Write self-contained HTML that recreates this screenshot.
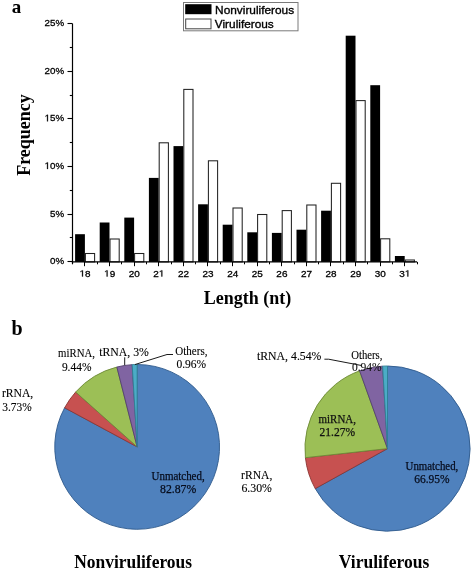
<!DOCTYPE html>
<html><head><meta charset="utf-8"><style>
html,body{margin:0;padding:0;background:#fff;}
body{width:472px;height:569px;overflow:hidden;}
svg{display:block;will-change:transform;}
</style></head><body>
<svg width="472" height="569" viewBox="0 0 472 569">
<rect width="472" height="569" fill="#fff"/>
<rect x="75.10" y="234.20" width="9.80" height="27.70" fill="#000"/>
<rect x="85.40" y="253.50" width="9.20" height="8.40" fill="#fff" stroke="#222" stroke-width="1.05"/>
<rect x="99.70" y="222.50" width="9.80" height="39.40" fill="#000"/>
<rect x="110.00" y="239.00" width="9.20" height="22.90" fill="#fff" stroke="#222" stroke-width="1.05"/>
<rect x="124.30" y="217.60" width="9.80" height="44.30" fill="#000"/>
<rect x="134.60" y="253.50" width="9.20" height="8.40" fill="#fff" stroke="#222" stroke-width="1.05"/>
<rect x="148.90" y="177.90" width="9.80" height="84.00" fill="#000"/>
<rect x="159.20" y="142.80" width="9.20" height="119.10" fill="#fff" stroke="#222" stroke-width="1.05"/>
<rect x="173.50" y="146.10" width="9.80" height="115.80" fill="#000"/>
<rect x="183.80" y="89.40" width="9.20" height="172.50" fill="#fff" stroke="#222" stroke-width="1.05"/>
<rect x="198.10" y="204.30" width="9.80" height="57.60" fill="#000"/>
<rect x="208.40" y="160.80" width="9.20" height="101.10" fill="#fff" stroke="#222" stroke-width="1.05"/>
<rect x="222.70" y="224.70" width="9.80" height="37.20" fill="#000"/>
<rect x="233.00" y="208.00" width="9.20" height="53.90" fill="#fff" stroke="#222" stroke-width="1.05"/>
<rect x="247.30" y="232.30" width="9.80" height="29.60" fill="#000"/>
<rect x="257.60" y="214.50" width="9.20" height="47.40" fill="#fff" stroke="#222" stroke-width="1.05"/>
<rect x="271.90" y="232.90" width="9.80" height="29.00" fill="#000"/>
<rect x="282.20" y="210.60" width="9.20" height="51.30" fill="#fff" stroke="#222" stroke-width="1.05"/>
<rect x="296.50" y="229.70" width="9.80" height="32.20" fill="#000"/>
<rect x="306.80" y="205.00" width="9.20" height="56.90" fill="#fff" stroke="#222" stroke-width="1.05"/>
<rect x="321.10" y="210.70" width="9.80" height="51.20" fill="#000"/>
<rect x="331.40" y="183.30" width="9.20" height="78.60" fill="#fff" stroke="#222" stroke-width="1.05"/>
<rect x="345.70" y="35.70" width="9.80" height="226.20" fill="#000"/>
<rect x="356.00" y="100.60" width="9.20" height="161.30" fill="#fff" stroke="#222" stroke-width="1.05"/>
<rect x="370.30" y="85.20" width="9.80" height="176.70" fill="#000"/>
<rect x="380.60" y="238.80" width="9.20" height="23.10" fill="#fff" stroke="#222" stroke-width="1.05"/>
<rect x="394.90" y="256.00" width="9.80" height="5.90" fill="#000"/>
<rect x="405.20" y="260.00" width="9.20" height="1.90" fill="#fff" stroke="#222" stroke-width="1.05"/>
<line x1="72.5" y1="23.6" x2="72.5" y2="262.5" stroke="#000" stroke-width="1.2"/>
<line x1="71.9" y1="261.9" x2="417.0" y2="261.9" stroke="#000" stroke-width="1.2"/>
<line x1="67.5" y1="261.50" x2="72.5" y2="261.50" stroke="#000" stroke-width="1.1"/>
<text transform="translate(50.058,264.100) scale(1.03,1)" font-family='"Liberation Sans", sans-serif' font-size="9.5" stroke="#000" stroke-width="0.28">0</text>
<text transform="translate(55.500,264.100) scale(1.03,1)" font-family='"Liberation Sans", sans-serif' font-size="9.5" stroke="#000" stroke-width="0.28">%</text>
<line x1="69.8" y1="237.50" x2="72.5" y2="237.50" stroke="#000" stroke-width="1.1"/>
<line x1="67.5" y1="214.50" x2="72.5" y2="214.50" stroke="#000" stroke-width="1.1"/>
<text transform="translate(50.058,216.520) scale(1.03,1)" font-family='"Liberation Sans", sans-serif' font-size="9.5" stroke="#000" stroke-width="0.28">5</text>
<text transform="translate(55.500,216.520) scale(1.03,1)" font-family='"Liberation Sans", sans-serif' font-size="9.5" stroke="#000" stroke-width="0.28">%</text>
<line x1="69.8" y1="190.50" x2="72.5" y2="190.50" stroke="#000" stroke-width="1.1"/>
<line x1="67.5" y1="166.50" x2="72.5" y2="166.50" stroke="#000" stroke-width="1.1"/>
<path transform="translate(44.616,168.940) scale(0.004778,-0.004639)" d="M515,0 L515,1237 L197,1010 L197,1180 L530,1409 L696,1409 L696,0 Z" fill="#000" stroke="#000" stroke-width="60.4"/>
<text transform="translate(50.058,168.940) scale(1.03,1)" font-family='"Liberation Sans", sans-serif' font-size="9.5" stroke="#000" stroke-width="0.28">0</text>
<text transform="translate(55.500,168.940) scale(1.03,1)" font-family='"Liberation Sans", sans-serif' font-size="9.5" stroke="#000" stroke-width="0.28">%</text>
<line x1="69.8" y1="142.50" x2="72.5" y2="142.50" stroke="#000" stroke-width="1.1"/>
<line x1="67.5" y1="118.50" x2="72.5" y2="118.50" stroke="#000" stroke-width="1.1"/>
<path transform="translate(44.616,121.360) scale(0.004778,-0.004639)" d="M515,0 L515,1237 L197,1010 L197,1180 L530,1409 L696,1409 L696,0 Z" fill="#000" stroke="#000" stroke-width="60.4"/>
<text transform="translate(50.058,121.360) scale(1.03,1)" font-family='"Liberation Sans", sans-serif' font-size="9.5" stroke="#000" stroke-width="0.28">5</text>
<text transform="translate(55.500,121.360) scale(1.03,1)" font-family='"Liberation Sans", sans-serif' font-size="9.5" stroke="#000" stroke-width="0.28">%</text>
<line x1="69.8" y1="95.50" x2="72.5" y2="95.50" stroke="#000" stroke-width="1.1"/>
<line x1="67.5" y1="71.50" x2="72.5" y2="71.50" stroke="#000" stroke-width="1.1"/>
<text transform="translate(44.616,73.780) scale(1.03,1)" font-family='"Liberation Sans", sans-serif' font-size="9.5" stroke="#000" stroke-width="0.28">2</text>
<text transform="translate(50.058,73.780) scale(1.03,1)" font-family='"Liberation Sans", sans-serif' font-size="9.5" stroke="#000" stroke-width="0.28">0</text>
<text transform="translate(55.500,73.780) scale(1.03,1)" font-family='"Liberation Sans", sans-serif' font-size="9.5" stroke="#000" stroke-width="0.28">%</text>
<line x1="69.8" y1="47.50" x2="72.5" y2="47.50" stroke="#000" stroke-width="1.1"/>
<line x1="67.5" y1="23.50" x2="72.5" y2="23.50" stroke="#000" stroke-width="1.1"/>
<text transform="translate(44.616,26.200) scale(1.03,1)" font-family='"Liberation Sans", sans-serif' font-size="9.5" stroke="#000" stroke-width="0.28">2</text>
<text transform="translate(50.058,26.200) scale(1.03,1)" font-family='"Liberation Sans", sans-serif' font-size="9.5" stroke="#000" stroke-width="0.28">5</text>
<text transform="translate(55.500,26.200) scale(1.03,1)" font-family='"Liberation Sans", sans-serif' font-size="9.5" stroke="#000" stroke-width="0.28">%</text>
<line x1="72.5" y1="261.9" x2="72.5" y2="264.29999999999995" stroke="#000" stroke-width="1.2"/>
<line x1="84.50" y1="261.9" x2="84.50" y2="266.2" stroke="#000" stroke-width="1.0"/>
<path transform="translate(79.556,276.500) scale(0.004867,-0.004346)" d="M515,0 L515,1237 L197,1010 L197,1180 L530,1409 L696,1409 L696,0 Z" fill="#000" stroke="#000" stroke-width="64.4"/>
<text transform="translate(85.100,276.500) scale(1.12,1)" font-family='"Liberation Sans", sans-serif' font-size="8.9" stroke="#000" stroke-width="0.28">8</text>
<line x1="97.50" y1="261.9" x2="97.50" y2="264.29999999999995" stroke="#000" stroke-width="1.0"/>
<line x1="109.50" y1="261.9" x2="109.50" y2="266.2" stroke="#000" stroke-width="1.0"/>
<path transform="translate(104.156,276.500) scale(0.004867,-0.004346)" d="M515,0 L515,1237 L197,1010 L197,1180 L530,1409 L696,1409 L696,0 Z" fill="#000" stroke="#000" stroke-width="64.4"/>
<text transform="translate(109.700,276.500) scale(1.12,1)" font-family='"Liberation Sans", sans-serif' font-size="8.9" stroke="#000" stroke-width="0.28">9</text>
<line x1="121.50" y1="261.9" x2="121.50" y2="264.29999999999995" stroke="#000" stroke-width="1.0"/>
<line x1="134.50" y1="261.9" x2="134.50" y2="266.2" stroke="#000" stroke-width="1.0"/>
<text transform="translate(128.756,276.500) scale(1.12,1)" font-family='"Liberation Sans", sans-serif' font-size="8.9" stroke="#000" stroke-width="0.28">2</text>
<text transform="translate(134.300,276.500) scale(1.12,1)" font-family='"Liberation Sans", sans-serif' font-size="8.9" stroke="#000" stroke-width="0.28">0</text>
<line x1="146.50" y1="261.9" x2="146.50" y2="264.29999999999995" stroke="#000" stroke-width="1.0"/>
<line x1="158.50" y1="261.9" x2="158.50" y2="266.2" stroke="#000" stroke-width="1.0"/>
<text transform="translate(153.356,276.500) scale(1.12,1)" font-family='"Liberation Sans", sans-serif' font-size="8.9" stroke="#000" stroke-width="0.28">2</text>
<path transform="translate(158.900,276.500) scale(0.004867,-0.004346)" d="M515,0 L515,1237 L197,1010 L197,1180 L530,1409 L696,1409 L696,0 Z" fill="#000" stroke="#000" stroke-width="64.4"/>
<line x1="171.50" y1="261.9" x2="171.50" y2="264.29999999999995" stroke="#000" stroke-width="1.0"/>
<line x1="183.50" y1="261.9" x2="183.50" y2="266.2" stroke="#000" stroke-width="1.0"/>
<text transform="translate(177.956,276.500) scale(1.12,1)" font-family='"Liberation Sans", sans-serif' font-size="8.9" stroke="#000" stroke-width="0.28">2</text>
<text transform="translate(183.500,276.500) scale(1.12,1)" font-family='"Liberation Sans", sans-serif' font-size="8.9" stroke="#000" stroke-width="0.28">2</text>
<line x1="195.50" y1="261.9" x2="195.50" y2="264.29999999999995" stroke="#000" stroke-width="1.0"/>
<line x1="207.50" y1="261.9" x2="207.50" y2="266.2" stroke="#000" stroke-width="1.0"/>
<text transform="translate(202.556,276.500) scale(1.12,1)" font-family='"Liberation Sans", sans-serif' font-size="8.9" stroke="#000" stroke-width="0.28">2</text>
<text transform="translate(208.100,276.500) scale(1.12,1)" font-family='"Liberation Sans", sans-serif' font-size="8.9" stroke="#000" stroke-width="0.28">3</text>
<line x1="220.50" y1="261.9" x2="220.50" y2="264.29999999999995" stroke="#000" stroke-width="1.0"/>
<line x1="232.50" y1="261.9" x2="232.50" y2="266.2" stroke="#000" stroke-width="1.0"/>
<text transform="translate(227.156,276.500) scale(1.12,1)" font-family='"Liberation Sans", sans-serif' font-size="8.9" stroke="#000" stroke-width="0.28">2</text>
<text transform="translate(232.700,276.500) scale(1.12,1)" font-family='"Liberation Sans", sans-serif' font-size="8.9" stroke="#000" stroke-width="0.28">4</text>
<line x1="244.50" y1="261.9" x2="244.50" y2="264.29999999999995" stroke="#000" stroke-width="1.0"/>
<line x1="257.50" y1="261.9" x2="257.50" y2="266.2" stroke="#000" stroke-width="1.0"/>
<text transform="translate(251.756,276.500) scale(1.12,1)" font-family='"Liberation Sans", sans-serif' font-size="8.9" stroke="#000" stroke-width="0.28">2</text>
<text transform="translate(257.300,276.500) scale(1.12,1)" font-family='"Liberation Sans", sans-serif' font-size="8.9" stroke="#000" stroke-width="0.28">5</text>
<line x1="269.50" y1="261.9" x2="269.50" y2="264.29999999999995" stroke="#000" stroke-width="1.0"/>
<line x1="281.50" y1="261.9" x2="281.50" y2="266.2" stroke="#000" stroke-width="1.0"/>
<text transform="translate(276.356,276.500) scale(1.12,1)" font-family='"Liberation Sans", sans-serif' font-size="8.9" stroke="#000" stroke-width="0.28">2</text>
<text transform="translate(281.900,276.500) scale(1.12,1)" font-family='"Liberation Sans", sans-serif' font-size="8.9" stroke="#000" stroke-width="0.28">6</text>
<line x1="294.50" y1="261.9" x2="294.50" y2="264.29999999999995" stroke="#000" stroke-width="1.0"/>
<line x1="306.50" y1="261.9" x2="306.50" y2="266.2" stroke="#000" stroke-width="1.0"/>
<text transform="translate(300.956,276.500) scale(1.12,1)" font-family='"Liberation Sans", sans-serif' font-size="8.9" stroke="#000" stroke-width="0.28">2</text>
<text transform="translate(306.500,276.500) scale(1.12,1)" font-family='"Liberation Sans", sans-serif' font-size="8.9" stroke="#000" stroke-width="0.28">7</text>
<line x1="318.50" y1="261.9" x2="318.50" y2="264.29999999999995" stroke="#000" stroke-width="1.0"/>
<line x1="330.50" y1="261.9" x2="330.50" y2="266.2" stroke="#000" stroke-width="1.0"/>
<text transform="translate(325.556,276.500) scale(1.12,1)" font-family='"Liberation Sans", sans-serif' font-size="8.9" stroke="#000" stroke-width="0.28">2</text>
<text transform="translate(331.100,276.500) scale(1.12,1)" font-family='"Liberation Sans", sans-serif' font-size="8.9" stroke="#000" stroke-width="0.28">8</text>
<line x1="343.50" y1="261.9" x2="343.50" y2="264.29999999999995" stroke="#000" stroke-width="1.0"/>
<line x1="355.50" y1="261.9" x2="355.50" y2="266.2" stroke="#000" stroke-width="1.0"/>
<text transform="translate(350.156,276.500) scale(1.12,1)" font-family='"Liberation Sans", sans-serif' font-size="8.9" stroke="#000" stroke-width="0.28">2</text>
<text transform="translate(355.700,276.500) scale(1.12,1)" font-family='"Liberation Sans", sans-serif' font-size="8.9" stroke="#000" stroke-width="0.28">9</text>
<line x1="367.50" y1="261.9" x2="367.50" y2="264.29999999999995" stroke="#000" stroke-width="1.0"/>
<line x1="380.50" y1="261.9" x2="380.50" y2="266.2" stroke="#000" stroke-width="1.0"/>
<text transform="translate(374.756,276.500) scale(1.12,1)" font-family='"Liberation Sans", sans-serif' font-size="8.9" stroke="#000" stroke-width="0.28">3</text>
<text transform="translate(380.300,276.500) scale(1.12,1)" font-family='"Liberation Sans", sans-serif' font-size="8.9" stroke="#000" stroke-width="0.28">0</text>
<line x1="392.50" y1="261.9" x2="392.50" y2="264.29999999999995" stroke="#000" stroke-width="1.0"/>
<line x1="404.50" y1="261.9" x2="404.50" y2="266.2" stroke="#000" stroke-width="1.0"/>
<text transform="translate(399.356,276.500) scale(1.12,1)" font-family='"Liberation Sans", sans-serif' font-size="8.9" stroke="#000" stroke-width="0.28">3</text>
<path transform="translate(404.900,276.500) scale(0.004867,-0.004346)" d="M515,0 L515,1237 L197,1010 L197,1180 L530,1409 L696,1409 L696,0 Z" fill="#000" stroke="#000" stroke-width="64.4"/>
<line x1="417.50" y1="261.9" x2="417.50" y2="264.29999999999995" stroke="#000" stroke-width="1.0"/>
<text x="247.4" y="303.5" text-anchor="middle" font-family='"Liberation Serif", serif' font-weight="bold" font-size="18">Length (nt)</text>
<text transform="translate(29.8,135) rotate(-90)" x="0" y="0" text-anchor="middle" font-family='"Liberation Serif", serif' font-weight="bold" font-size="18">Frequency</text>
<rect x="183.5" y="2.5" width="114.5" height="28.3" fill="#fff" stroke="#7a7a7a" stroke-width="1"/>
<rect x="185.2" y="4.2" width="26.3" height="10" fill="#000"/>
<rect x="185.7" y="19" width="25.3" height="9.8" fill="#fff" stroke="#444" stroke-width="1"/>
<text x="215.1" y="13.8" font-family='"Liberation Sans", sans-serif' font-size="11.5" stroke="#000" stroke-width="0.35" textLength="79" lengthAdjust="spacingAndGlyphs">Nonviruliferous</text>
<text x="214.8" y="27.8" font-family='"Liberation Sans", sans-serif' font-size="11.5" stroke="#000" stroke-width="0.35" textLength="59" lengthAdjust="spacingAndGlyphs">Viruliferous</text>
<text x="11.8" y="12.8" font-family='"Liberation Serif", serif' font-weight="bold" font-size="19">a</text>
<text x="11.5" y="334.6" font-family='"Liberation Serif", serif' font-weight="bold" font-size="20">b</text>
<path d="M137.15,446.90 L137.15,364.50 A82.4,82.4 0 1 1 64.62,407.79 Z" fill="#4F81BD" stroke="#2f5a8c" stroke-width="0.9" stroke-linejoin="round"/>
<path d="M137.15,446.90 L64.62,407.79 A82.4,82.4 0 0 1 75.68,392.02 Z" fill="#C75150" stroke="#8c3533" stroke-width="0.9" stroke-linejoin="round"/>
<path d="M137.15,446.90 L75.68,392.02 A82.4,82.4 0 0 1 116.86,367.04 Z" fill="#9CBF56" stroke="#6d8a37" stroke-width="0.9" stroke-linejoin="round"/>
<path d="M137.15,446.90 L116.86,367.04 A82.4,82.4 0 0 1 132.18,364.65 Z" fill="#8064A2" stroke="#54406f" stroke-width="0.9" stroke-linejoin="round"/>
<path d="M137.15,446.90 L132.18,364.65 A82.4,82.4 0 0 1 137.15,364.50 Z" fill="#4BACC6" stroke="#2f7f95" stroke-width="0.9" stroke-linejoin="round"/>
<path d="M387.50,448.60 L387.50,366.00 A82.6,82.6 0 1 1 315.24,488.62 Z" fill="#4F81BD" stroke="#2f5a8c" stroke-width="0.9" stroke-linejoin="round"/>
<path d="M387.50,448.60 L315.24,488.62 A82.6,82.6 0 0 1 305.40,457.66 Z" fill="#C75150" stroke="#8c3533" stroke-width="0.9" stroke-linejoin="round"/>
<path d="M387.50,448.60 L305.40,457.66 A82.6,82.6 0 0 1 359.62,370.85 Z" fill="#9CBF56" stroke="#6d8a37" stroke-width="0.9" stroke-linejoin="round"/>
<path d="M387.50,448.60 L359.62,370.85 A82.6,82.6 0 0 1 382.62,366.14 Z" fill="#8064A2" stroke="#54406f" stroke-width="0.9" stroke-linejoin="round"/>
<path d="M387.50,448.60 L382.62,366.14 A82.6,82.6 0 0 1 387.50,366.00 Z" fill="#4BACC6" stroke="#2f7f95" stroke-width="0.9" stroke-linejoin="round"/>
<text x="1.9" y="396.9" text-anchor="start" font-family='"Liberation Serif", serif' font-size="12.5" fill="#000" stroke="#000" stroke-width="0.12" textLength="31.4" lengthAdjust="spacingAndGlyphs">rRNA,</text>
<text x="2.3" y="410.5" text-anchor="start" font-family='"Liberation Serif", serif' font-size="12.5" fill="#000" stroke="#000" stroke-width="0.12" textLength="29.5" lengthAdjust="spacingAndGlyphs">3.73%</text>
<text x="58.1" y="357.0" text-anchor="start" font-family='"Liberation Serif", serif' font-size="12.5" fill="#000" stroke="#000" stroke-width="0.12" textLength="36.8" lengthAdjust="spacingAndGlyphs">miRNA,</text>
<text x="61.9" y="370.6" text-anchor="start" font-family='"Liberation Serif", serif' font-size="12.5" fill="#000" stroke="#000" stroke-width="0.12" textLength="29.6" lengthAdjust="spacingAndGlyphs">9.44%</text>
<text x="99.2" y="355.7" text-anchor="start" font-family='"Liberation Serif", serif' font-size="12.5" fill="#000" stroke="#000" stroke-width="0.12" textLength="49.7" lengthAdjust="spacingAndGlyphs">tRNA, 3%</text>
<text x="175.3" y="355.0" text-anchor="start" font-family='"Liberation Serif", serif' font-size="12.5" fill="#000" stroke="#000" stroke-width="0.12" textLength="32.2" lengthAdjust="spacingAndGlyphs">Others,</text>
<text x="176.4" y="368.0" text-anchor="start" font-family='"Liberation Serif", serif' font-size="12.5" fill="#000" stroke="#000" stroke-width="0.12" textLength="29.7" lengthAdjust="spacingAndGlyphs">0.96%</text>
<text x="151.5" y="480.0" text-anchor="start" font-family='"Liberation Serif", serif' font-size="12.5" fill="#060c1c" stroke="#060c1c" stroke-width="0.25" textLength="53.2" lengthAdjust="spacingAndGlyphs">Unmatched,</text>
<text x="160.0" y="493.0" text-anchor="start" font-family='"Liberation Serif", serif' font-size="12.5" fill="#060c1c" stroke="#060c1c" stroke-width="0.25" textLength="36.3" lengthAdjust="spacingAndGlyphs">82.87%</text>
<line x1="124.7" y1="357.3" x2="124.7" y2="365.3" stroke="#1a1a1a" stroke-width="1"/>
<polyline points="173,354.5 167,354.5 134.8,364.6" fill="none" stroke="#1a1a1a" stroke-width="1"/>
<text x="241.1" y="479.0" text-anchor="start" font-family='"Liberation Serif", serif' font-size="12.5" fill="#000" stroke="#000" stroke-width="0.12" textLength="31.3" lengthAdjust="spacingAndGlyphs">rRNA,</text>
<text x="241.4" y="492.2" text-anchor="start" font-family='"Liberation Serif", serif' font-size="12.5" fill="#000" stroke="#000" stroke-width="0.12" textLength="30.5" lengthAdjust="spacingAndGlyphs">6.30%</text>
<text x="318.6" y="422.9" text-anchor="start" font-family='"Liberation Serif", serif' font-size="12.5" fill="#111" stroke="#111" stroke-width="0.25" textLength="37.3" lengthAdjust="spacingAndGlyphs">miRNA,</text>
<text x="319.5" y="435.9" text-anchor="start" font-family='"Liberation Serif", serif' font-size="12.5" fill="#111" stroke="#111" stroke-width="0.25" textLength="35.6" lengthAdjust="spacingAndGlyphs">21.27%</text>
<text x="257.0" y="359.7" text-anchor="start" font-family='"Liberation Serif", serif' font-size="12.5" fill="#000" stroke="#000" stroke-width="0.12" textLength="64.4" lengthAdjust="spacingAndGlyphs">tRNA, 4.54%</text>
<text x="351.2" y="358.6" text-anchor="start" font-family='"Liberation Serif", serif' font-size="12.5" fill="#000" stroke="#000" stroke-width="0.12" textLength="31.2" lengthAdjust="spacingAndGlyphs">Others,</text>
<text x="351.9" y="371.2" text-anchor="start" font-family='"Liberation Serif", serif' font-size="12.5" fill="#111" stroke="#111" stroke-width="0.12" textLength="29.8" lengthAdjust="spacingAndGlyphs">0.94%</text>
<text x="405.6" y="470.4" text-anchor="start" font-family='"Liberation Serif", serif' font-size="12.5" fill="#060c1c" stroke="#060c1c" stroke-width="0.25" textLength="52.7" lengthAdjust="spacingAndGlyphs">Unmatched,</text>
<text x="414.2" y="483.4" text-anchor="start" font-family='"Liberation Serif", serif' font-size="12.5" fill="#060c1c" stroke="#060c1c" stroke-width="0.25" textLength="35.4" lengthAdjust="spacingAndGlyphs">66.95%</text>
<polyline points="324.4,359.2 328.6,359.2 362,365.6" fill="none" stroke="#1a1a1a" stroke-width="1"/>
<text x="74.2" y="567.6" font-family='"Liberation Serif", serif' font-weight="bold" font-size="18.5" textLength="117.8" lengthAdjust="spacingAndGlyphs">Nonviruliferous</text>
<text x="338.8" y="567.6" font-family='"Liberation Serif", serif' font-weight="bold" font-size="18.5" textLength="90.5" lengthAdjust="spacingAndGlyphs">Viruliferous</text>
</svg>
</body></html>
